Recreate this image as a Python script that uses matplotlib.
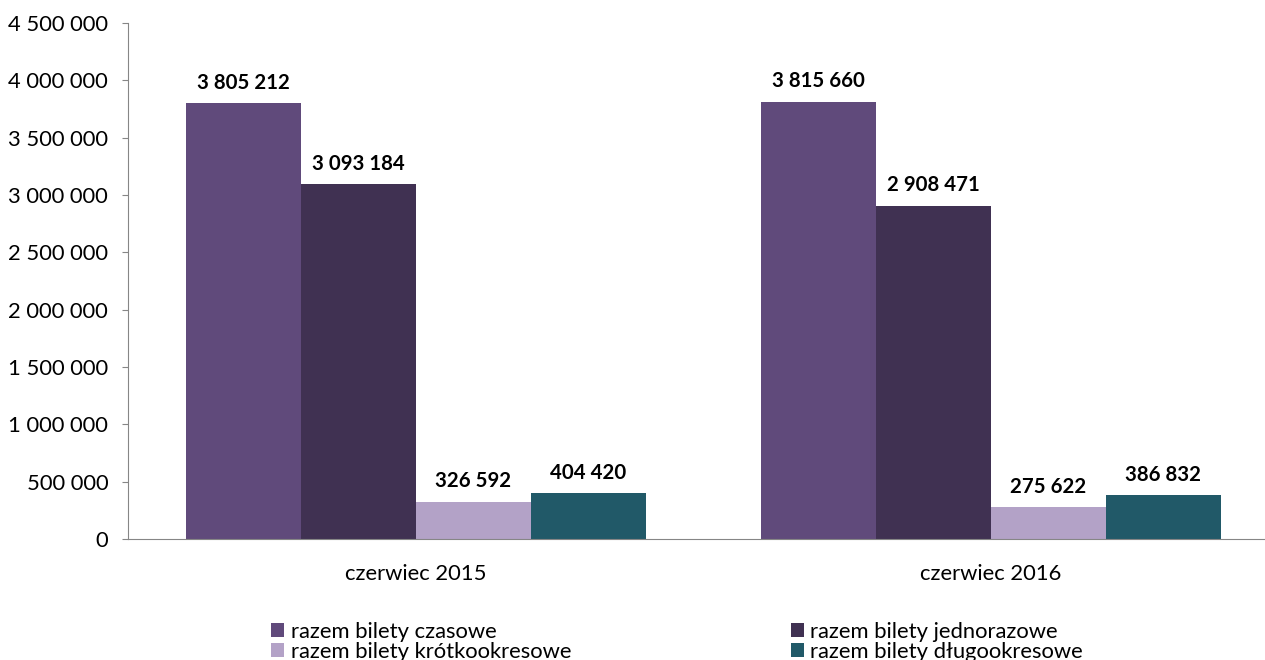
import matplotlib.pyplot as plt
import numpy as np

plt.rcParams['font.family'] = ['Lato', 'DejaVu Sans']

categories = ["czerwiec 2015", "czerwiec 2016"]
series = ["razem bilety czasowe", "razem bilety jednorazowe",
          "razem bilety krótkookresowe", "razem bilety długookresowe"]
values = [
    [3805212, 3815660],
    [3093184, 2908471],
    [326592, 275622],
    [404420, 386832],
]
colors = ["#604A7B", "#403152", "#B3A2C7", "#215968"]
yticks = [0, 500000, 1000000, 1500000, 2000000, 2500000, 3000000, 3500000, 4000000, 4500000]


def fmt(v):
    return f"{v:,}".replace(",", " ")


fig = plt.figure(figsize=(12.65, 6.6), dpi=100)
# the plot area runs a bit past the right edge, as in the source
ax = fig.add_axes([0.1012, 0.1833, 0.9091, 0.7818])

x = np.arange(len(categories))
w = 0.2
handles = []
for i, (name, vals, c) in enumerate(zip(series, values, colors)):
    pos = x + (i - 1.5) * w
    b = ax.bar(pos, vals, width=w, color=c, label=name)
    handles.append(b)
    for p, v in zip(pos, vals):
        ax.annotate(fmt(v), (p, v), xytext=(0, 14.5), textcoords='offset points',
                    ha='center', va='center', fontsize=14.7, fontweight='bold')

ax.set_xlim(-0.5, 1.5)
ax.set_ylim(0, 4500000)
ax.set_yticks(yticks)
ax.set_yticklabels([fmt(t) for t in yticks], fontsize=15.8)
ax.set_xticks(x)
ax.set_xticklabels(categories, fontsize=15.8)
ax.tick_params(axis='x', length=0, pad=18)
ax.tick_params(axis='y', length=4.3, color='#868686', pad=10)
for s in ['top', 'right']:
    ax.spines[s].set_visible(False)
for s in ['left', 'bottom']:
    ax.spines[s].set_color('#868686')

order = [0, 2, 1, 3]
fig.legend([handles[k] for k in order], [series[k] for k in order],
           ncol=2, loc='center left', bbox_to_anchor=(271 / 1265, 18 / 660),
           frameon=False, fontsize=15.8, handlelength=0.6, handleheight=0.6,
           handletextpad=0.3, columnspacing=10, labelspacing=0.0,
           borderpad=0, borderaxespad=0)

fig.savefig("out.png", dpi=100)
